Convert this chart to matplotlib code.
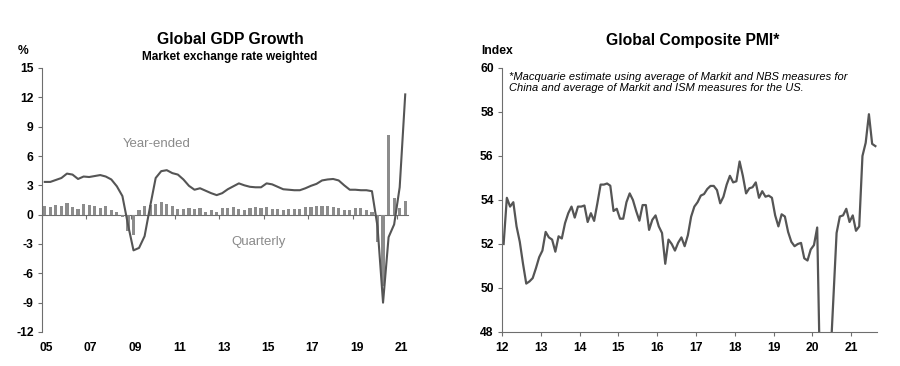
import numpy as np
import matplotlib
matplotlib.use('Agg')
import matplotlib.pyplot as plt
import matplotlib.transforms as mtransforms

plt.rcParams['font.family'] = ['Liberation Sans', 'DejaVu Sans']
plt.rcParams['axes.unicode_minus'] = False

#------------------------------------------------------------------------------
# Global GDP growth, quarterly from 2005Q1 to 2021Q2
gdp_quarterly = [0.85, 0.8, 0.95, 0.9,
                 1.15, 0.8, 0.6, 1.1,
                 0.95, 0.9, 0.7, 0.9,
                 0.45, 0.3, -0.25, -1.7,
                 -2.05, 0.5, 0.85, 0.95,
                 1.1, 1.25, 1.1, 0.85,
                 0.6, 0.6, 0.7, 0.6,
                 0.7, 0.3, 0.5, 0.3,
                 0.7, 0.7, 0.8, 0.6,
                 0.5, 0.65, 0.8, 0.65,
                 0.75, 0.6, 0.6, 0.45,
                 0.6, 0.6, 0.6, 0.8,
                 0.8, 0.85, 0.85, 0.85,
                 0.8, 0.7, 0.5, 0.45,
                 0.7, 0.7, 0.5, 0.3,
                 -2.8, -7.3, 8.1, 1.75,
                 0.7, 1.35]
gdp_year_ended = [3.35, 3.35, 3.55, 3.75,
                  4.2, 4.1, 3.65, 3.9,
                  3.85, 3.95, 4.05, 3.9,
                  3.6, 2.9, 1.9, -1.0,
                  -3.65, -3.4, -2.2, 0.85,
                  3.75, 4.45, 4.55, 4.25,
                  4.1, 3.6, 2.95, 2.55,
                  2.7, 2.45, 2.2, 2.0,
                  2.2, 2.6, 2.9, 3.2,
                  3.0, 2.85, 2.8, 2.8,
                  3.2, 3.1, 2.85, 2.6,
                  2.55, 2.5, 2.5, 2.7,
                  2.95, 3.15, 3.5, 3.6,
                  3.65, 3.5, 3.0, 2.55,
                  2.55, 2.5, 2.5, 2.4,
                  -1.2, -9.0, -2.3, -1.0,
                  2.8, 12.3]
gdp_years = [2005, 2007, 2009, 2011, 2013, 2015, 2017, 2019, 2021]
gdp_year_labels = ['05', '07', '09', '11', '13', '15', '17', '19', '21']

# Global composite PMI, monthly from Jan 2012 to Aug 2021
pmi = [52.0, 54.1, 53.7, 53.9, 52.8, 52.1, 51.1, 50.2, 50.3, 50.45, 50.9, 51.4,
       51.7, 52.55, 52.3, 52.2, 51.65, 52.35, 52.25, 52.95, 53.4, 53.7, 53.2, 53.7,
       53.7, 53.75, 53.0, 53.4, 53.05, 53.85, 54.7, 54.7, 54.75, 54.65, 53.5, 53.6,
       53.15, 53.15, 53.9, 54.3, 54.0, 53.5, 53.06, 53.77, 53.77, 52.64, 53.1, 53.3,
       52.8, 52.5, 51.1, 52.2, 52.0, 51.7, 52.06, 52.3, 51.9, 52.4, 53.24, 53.7,
       53.9, 54.2, 54.27, 54.5, 54.64, 54.64, 54.45, 53.85, 54.15, 54.7, 55.1, 54.8,
       54.85, 55.75, 55.1, 54.3, 54.53, 54.58, 54.8, 54.1, 54.4, 54.15, 54.2, 54.1,
       53.3, 52.8, 53.35, 53.25, 52.55, 52.1, 51.9, 52.0, 52.05, 51.35, 51.25, 51.75,
       51.95, 52.75, 45.0, 35.0, 38.0, 46.5, 49.5, 52.5, 53.25, 53.3, 53.6, 53.0,
       53.3, 52.6, 52.8, 56.0, 56.6, 57.9, 56.55, 56.45]
pmi_years = list(range(2012, 2022))
pmi_year_labels = ['12', '13', '14', '15', '16', '17', '18', '19', '20', '21']
#------------------------------------------------------------------------------

fig = plt.figure(figsize=(9, 3.66), dpi=100)
axc = '#6e6e6e'
linec = '#555555'
barc = '#8c8c8c'

#------------------------------------------------------------------------------
ax = fig.add_axes([42/900, 1-332/366, 366/900, 264/366])
xq = 2005 + (np.arange(len(gdp_quarterly)) + 0.5) / 4
ax.bar(xq, gdp_quarterly, width=0.14, color=barc, zorder=2)
ax.plot(xq, gdp_year_ended, color=linec, lw=1.5, zorder=3)
ax.set_xlim(2005, 2021.5)
ax.set_ylim(-12, 15)
ax.set_yticks(np.arange(-12, 16, 3))
for s in ['top', 'right', 'bottom']:
    ax.spines[s].set_visible(False)
ax.spines['left'].set_color(axc)
ax.set_xticks(gdp_years)
ax.set_xticklabels(gdp_year_labels)
ax.tick_params(axis='x', length=0, pad=7.5)
ax.tick_params(axis='y', direction='out', length=3, color=axc, pad=3)
shift = mtransforms.ScaledTranslation(3/72, 0, fig.dpi_scale_trans)
for lab in ax.get_xticklabels():
    lab.set_transform(lab.get_transform() + shift)
for lab in ax.get_xticklabels() + ax.get_yticklabels():
    lab.set_fontsize(8.7)
    lab.set_fontweight('bold')

zero = ax.secondary_xaxis(12/27)
zero.set_xticks(gdp_years)
zero.tick_params(axis='x', direction='out', length=3, color=axc, labelbottom=False, labeltop=False)
zero.spines['bottom'].set_color(axc)
zero.spines['top'].set_visible(False)

ax.text(2010.18, 7.27, 'Year-ended', color='#8a8a8a', fontsize=9.5, ha='center', va='center')
ax.text(2014.77, -2.76, 'Quarterly', color='#8a8a8a', fontsize=9.5, ha='center', va='center')

fig.text(230/900, 1-39/366, 'Global GDP Growth', fontsize=11.3, fontweight='bold', ha='center', va='center')
fig.text(230/900, 1-57/366, 'Market exchange rate weighted', fontsize=8.5, fontweight='bold', ha='center', va='center')
fig.text(23/900, 1-51/366, '%', fontsize=8.7, fontweight='bold', ha='center', va='center')

#------------------------------------------------------------------------------
ax = fig.add_axes([502/900, 1-332/366, 375/900, 264/366])
xm = 2012 + (np.arange(len(pmi)) + 0.5) / 12
ax.plot(xm, pmi, color=linec, lw=1.6)
ax.set_xlim(2012, 2012 + len(pmi)/12)
ax.set_ylim(48, 60)
ax.set_yticks(np.arange(48, 61, 2))
ax.set_xticks(pmi_years)
ax.set_xticklabels(pmi_year_labels)
for s in ['top', 'right']:
    ax.spines[s].set_visible(False)
for s in ['left', 'bottom']:
    ax.spines[s].set_color(axc)
ax.tick_params(axis='both', direction='out', length=3, color=axc)
ax.tick_params(axis='x', pad=4.5)
ax.tick_params(axis='y', pad=3)
for lab in ax.get_xticklabels() + ax.get_yticklabels():
    lab.set_fontsize(8.7)
    lab.set_fontweight('bold')

ax.text(0.019, 0.985, '*Macquarie estimate using average of Markit and NBS measures for\n'
        'China and average of Markit and ISM measures for the US.',
        transform=ax.transAxes, fontsize=8, style='italic', ha='left', va='top',
        linespacing=1.1)

fig.text(693/900, 1-40/366, 'Global Composite PMI*', fontsize=11.3, fontweight='bold', ha='center', va='center')
fig.text(497/900, 1-51/366, 'Index', fontsize=8.7, fontweight='bold', ha='center', va='center')

fig.savefig('out.png', dpi=100)
